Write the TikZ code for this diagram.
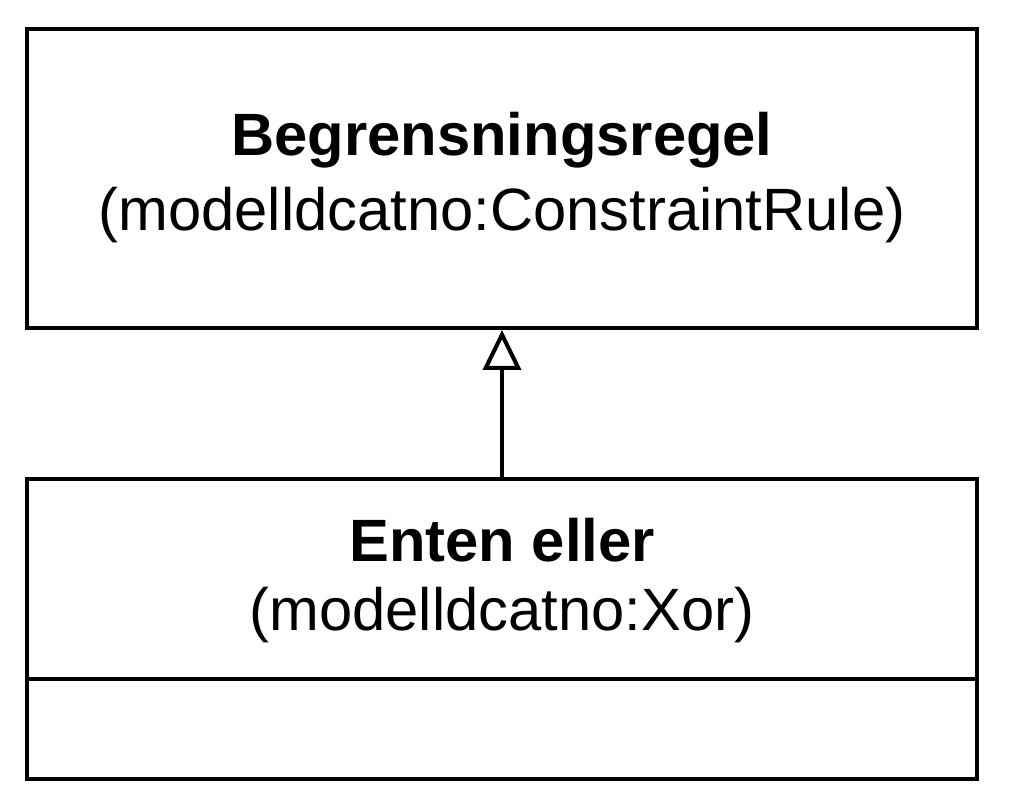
\documentclass[tikz,border=0pt]{standalone}
\usepackage{fontspec}
\setmainfont{Liberation Sans}
\usetikzlibrary{positioning,arrows.meta}
\begin{document}
\begin{tikzpicture}[x=0.02cm,y=-0.02cm,line width=2.3pt,
  box/.style={draw=black,minimum width=19cm,inner sep=0pt},
  lbl/.style={font=\fontsize{34}{40}\selectfont},
  ttl/.style={font=\fontsize{34}{40}\selectfont\bfseries}]
\useasboundingbox (0,0) rectangle (1010,810);
\node[box,minimum height=5.98cm,anchor=north] (rule) at (502,27) {};
\node[ttl] (ruletitle) at (502,140) {Begrensningsregel};
\node[lbl] (ruletype) at (502,215) {(modelldcatno:ConstraintRule)};
\node[box,minimum height=4cm,anchor=north] (xor) at (502,477) {};
\node[box,minimum height=2cm,anchor=north] (xorattr) at (502,677) {};
\node[ttl] (xortitle) at (502,540) {Enten eller};
\node[lbl] (xortype) at (502,615) {(modelldcatno:Xor)};
\draw[-{Triangle[open,width=0.76cm,length=0.8cm,line width=2.3pt]}] (xor.north) -- (rule.south);
\end{tikzpicture}
\end{document}
